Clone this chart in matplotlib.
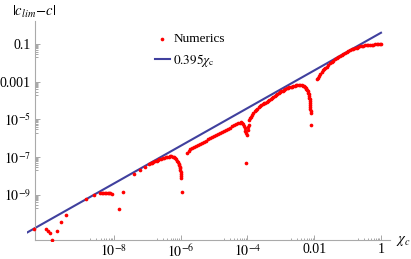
import matplotlib
matplotlib.use('Agg')
import matplotlib.pyplot as plt
import numpy as np

plt.rcParams['font.family'] = ['Liberation Serif', 'DejaVu Serif']
plt.rcParams['mathtext.fontset'] = 'stix'

# numerics as log10 values (chi_c, |c_lim - c|)
chi_exp = [-10.38, -10.03, -9.96, -9.90, -9.84, -9.71, -9.58, -9.42, -8.83, -8.60,
           -8.41, -8.36, -8.32, -8.27, -8.23, -8.18, -8.14, -8.10, -8.06,
           -7.86, -7.74, -7.40, -7.22, -7.07,
           # hump and dip near 1e-6
           -6.94, -6.90, -6.86, -6.82, -6.77, -6.72, -6.68, -6.64, -6.59, -6.54,
           -6.50, -6.45, -6.41, -6.36, -6.32, -6.28, -6.24, -6.20, -6.17, -6.14,
           -6.11, -6.08, -6.06, -6.04, -6.03, -6.02, -6.01, -6.00, -5.99, -5.98,
           -5.98, -5.97,
           # hump and dip near 1e-4
           -5.80, -5.76, -5.72, -5.66, -5.60, -5.54, -5.48, -5.42, -5.36, -5.30,
           -5.24, -5.18, -5.12, -5.06, -5.00, -4.94, -4.88, -4.82, -4.76, -4.70,
           -4.64, -4.58, -4.52, -4.46, -4.40, -4.34, -4.28, -4.23, -4.19, -4.15,
           -4.12, -4.10, -4.08, -4.06, -4.04, -4.02, -4.04,
           # hump and dip near 0.01
           -3.98, -3.97, -3.96, -3.94, -3.92, -3.89, -3.86, -3.82, -3.78, -3.74,
           -3.70, -3.66, -3.62, -3.58, -3.54, -3.50, -3.46, -3.42, -3.38, -3.34,
           -3.30, -3.26, -3.22, -3.18, -3.14, -3.10, -3.06, -3.02, -2.98, -2.94,
           -2.90, -2.86, -2.82, -2.78, -2.74, -2.70, -2.66, -2.62, -2.58, -2.54,
           -2.50, -2.46, -2.42, -2.38, -2.34, -2.31, -2.28, -2.26, -2.24, -2.22,
           -2.20, -2.18, -2.17, -2.16, -2.15, -2.14, -2.13, -2.13, -2.12, -2.12,
           -2.12, -2.11, -2.11, -2.10,
           # last branch up to chi_c = 1
           -1.93, -1.89, -1.86, -1.82, -1.78, -1.74, -1.71, -1.67, -1.63, -1.58,
           -1.53, -1.48, -1.43, -1.38, -1.33, -1.28, -1.23, -1.18, -1.13, -1.08,
           -1.03, -0.98, -0.93, -0.88, -0.83, -0.78, -0.73, -0.68, -0.63, -0.58,
           -0.53, -0.48, -0.43, -0.38, -0.33, -0.28, -0.23, -0.18, -0.13, -0.08,
           -0.04, 0.0]
diff_exp = [-10.83, -10.81, -10.92, -11.04, -11.40, -10.94, -10.43, -10.06, -9.24, -9.03,
            -8.92, -8.90, -8.89, -8.88, -8.89, -8.89, -8.90, -8.92, -8.96,
            -9.77, -8.84, -7.91, -7.68, -7.51,
            -7.37, -7.33, -7.29, -7.25, -7.21, -7.18, -7.15, -7.12, -7.10, -7.07,
            -7.05, -7.02, -6.99, -6.97, -6.96, -6.96, -6.97, -7.00, -7.05, -7.11,
            -7.18, -7.26, -7.34, -7.42, -7.50, -7.59, -7.68, -7.79, -7.90, -8.00,
            -8.11, -8.84,
            -6.80, -6.68, -6.59, -6.52, -6.46, -6.41, -6.35, -6.30, -6.24, -6.18,
            -6.12, -6.06, -6.00, -5.94, -5.89, -5.83, -5.78, -5.72, -5.67, -5.61,
            -5.55, -5.49, -5.43, -5.37, -5.31, -5.26, -5.21, -5.17, -5.16, -5.19,
            -5.26, -5.36, -5.47, -5.59, -5.70, -5.82, -7.30,
            -5.55, -5.40, -5.28, -5.05, -4.95, -4.85, -4.77, -4.67, -4.58, -4.50,
            -4.43, -4.36, -4.29, -4.24, -4.19, -4.15, -4.11, -4.06, -4.02, -3.98,
            -3.93, -3.88, -3.83, -3.78, -3.73, -3.67, -3.61, -3.55, -3.51, -3.47,
            -3.43, -3.39, -3.36, -3.33, -3.30, -3.28, -3.26, -3.24, -3.22, -3.20,
            -3.19, -3.18, -3.18, -3.19, -3.21, -3.24, -3.28, -3.33, -3.38, -3.44,
            -3.51, -3.59, -3.67, -3.75, -3.84, -3.93, -4.02, -4.12, -4.22, -4.33,
            -4.44, -4.55, -4.66, -5.30,
            -2.87, -2.78, -2.70, -2.58, -2.47, -2.39, -2.33, -2.26, -2.20, -2.11,
            -2.03, -1.96, -1.89, -1.82, -1.76, -1.70, -1.64, -1.58, -1.52, -1.47,
            -1.42, -1.37, -1.33, -1.29, -1.25, -1.22, -1.19, -1.16, -1.13, -1.11,
            -1.09, -1.07, -1.06, -1.05, -1.04, -1.035, -1.03, -1.025, -1.02, -1.015,
            -1.01, -1.01]

fit_coef = 0.395
line_chi = [10**-10.6, 1.0]

x_ticks = [1e-8, 1e-6, 1e-4, 1e-2, 1]
x_labels = [r'$10^{-8}$', r'$10^{-6}$', r'$10^{-4}$', '0.01', '1']
y_ticks = [0.1, 1e-3, 1e-5, 1e-7, 1e-9]
y_labels = ['0.1', '0.001', r'$10^{-5}$', r'$10^{-7}$', r'$10^{-9}$']

chi = 10.0 ** np.array(chi_exp)
diff = 10.0 ** np.array(diff_exp)
line_x = np.array(line_chi)
line_y = fit_coef * line_x

fig = plt.figure(figsize=(4.11, 2.59), dpi=100)
ax = fig.add_axes([27/411, 1 - 241/259, 363/411, 220/259])
ax.set_xscale('log')
ax.set_yscale('log')
x0, x1 = 10**-10.6, 10**0.27
y0, y1 = 10**-11.45, 10**0.22
ax.set_xlim(x0, x1)
ax.set_ylim(y0, y1)

ax.scatter(chi, diff, s=7, color='red', linewidths=0, label='Numerics', zorder=3)
ax.plot(line_x, line_y, color='#40409e', lw=1.5, label=r'$0.395\chi_{\rm c}$', zorder=2)

# axes cross Mathematica-style
ox, oy = 10**-10.36, 10**-11.40
for s in ['top', 'right']:
    ax.spines[s].set_visible(False)
ax.spines['left'].set_position(('data', ox))
ax.spines['bottom'].set_position(('data', oy))
ax.spines['left'].set_bounds(oy, y1)
ax.spines['bottom'].set_bounds(ox, x1)
for s in ['left', 'bottom']:
    ax.spines[s].set_color('#aaaaaa')
    ax.spines[s].set_linewidth(0.8)

ax.set_xticks(x_ticks)
ax.set_xticklabels(x_labels)
ax.set_yticks(y_ticks)
ax.set_yticklabels(y_labels)
ax.set_xticks([k * 10.0**d for d in (-9, -7, -5, -3, -1) for k in range(2, 10)], minor=True)
ax.set_yticks([k * 10.0**d for d in (-10, -8, -6, -4, -2) for k in range(2, 10)], minor=True)
ax.xaxis.set_minor_formatter(matplotlib.ticker.NullFormatter())
ax.yaxis.set_minor_formatter(matplotlib.ticker.NullFormatter())
ax.tick_params(which='both', direction='in', color='#999999', width=0.6, labelsize=10)
ax.tick_params(which='major', length=3.5)
ax.tick_params(which='minor', length=1.8)
ax.tick_params(axis='x', pad=2)
ax.tick_params(axis='y', pad=3)

ax.legend(loc='upper left', bbox_to_anchor=(155/411, 1 - 33/259), bbox_transform=fig.transFigure,
          frameon=False, fontsize=9.5, handlelength=1.1, handletextpad=0.3,
          labelspacing=0.5, borderpad=0, borderaxespad=0, scatterpoints=1)

fig.text(12/411, 1 - 12/259, r'$|c_{lim}\!-\!c|$', ha='left', va='center', fontsize=10.5)
fig.text(396/411, 1 - 241/259, r'$\chi_c$', ha='left', va='center', fontsize=10.5)

fig.savefig('out.png', dpi=100)
